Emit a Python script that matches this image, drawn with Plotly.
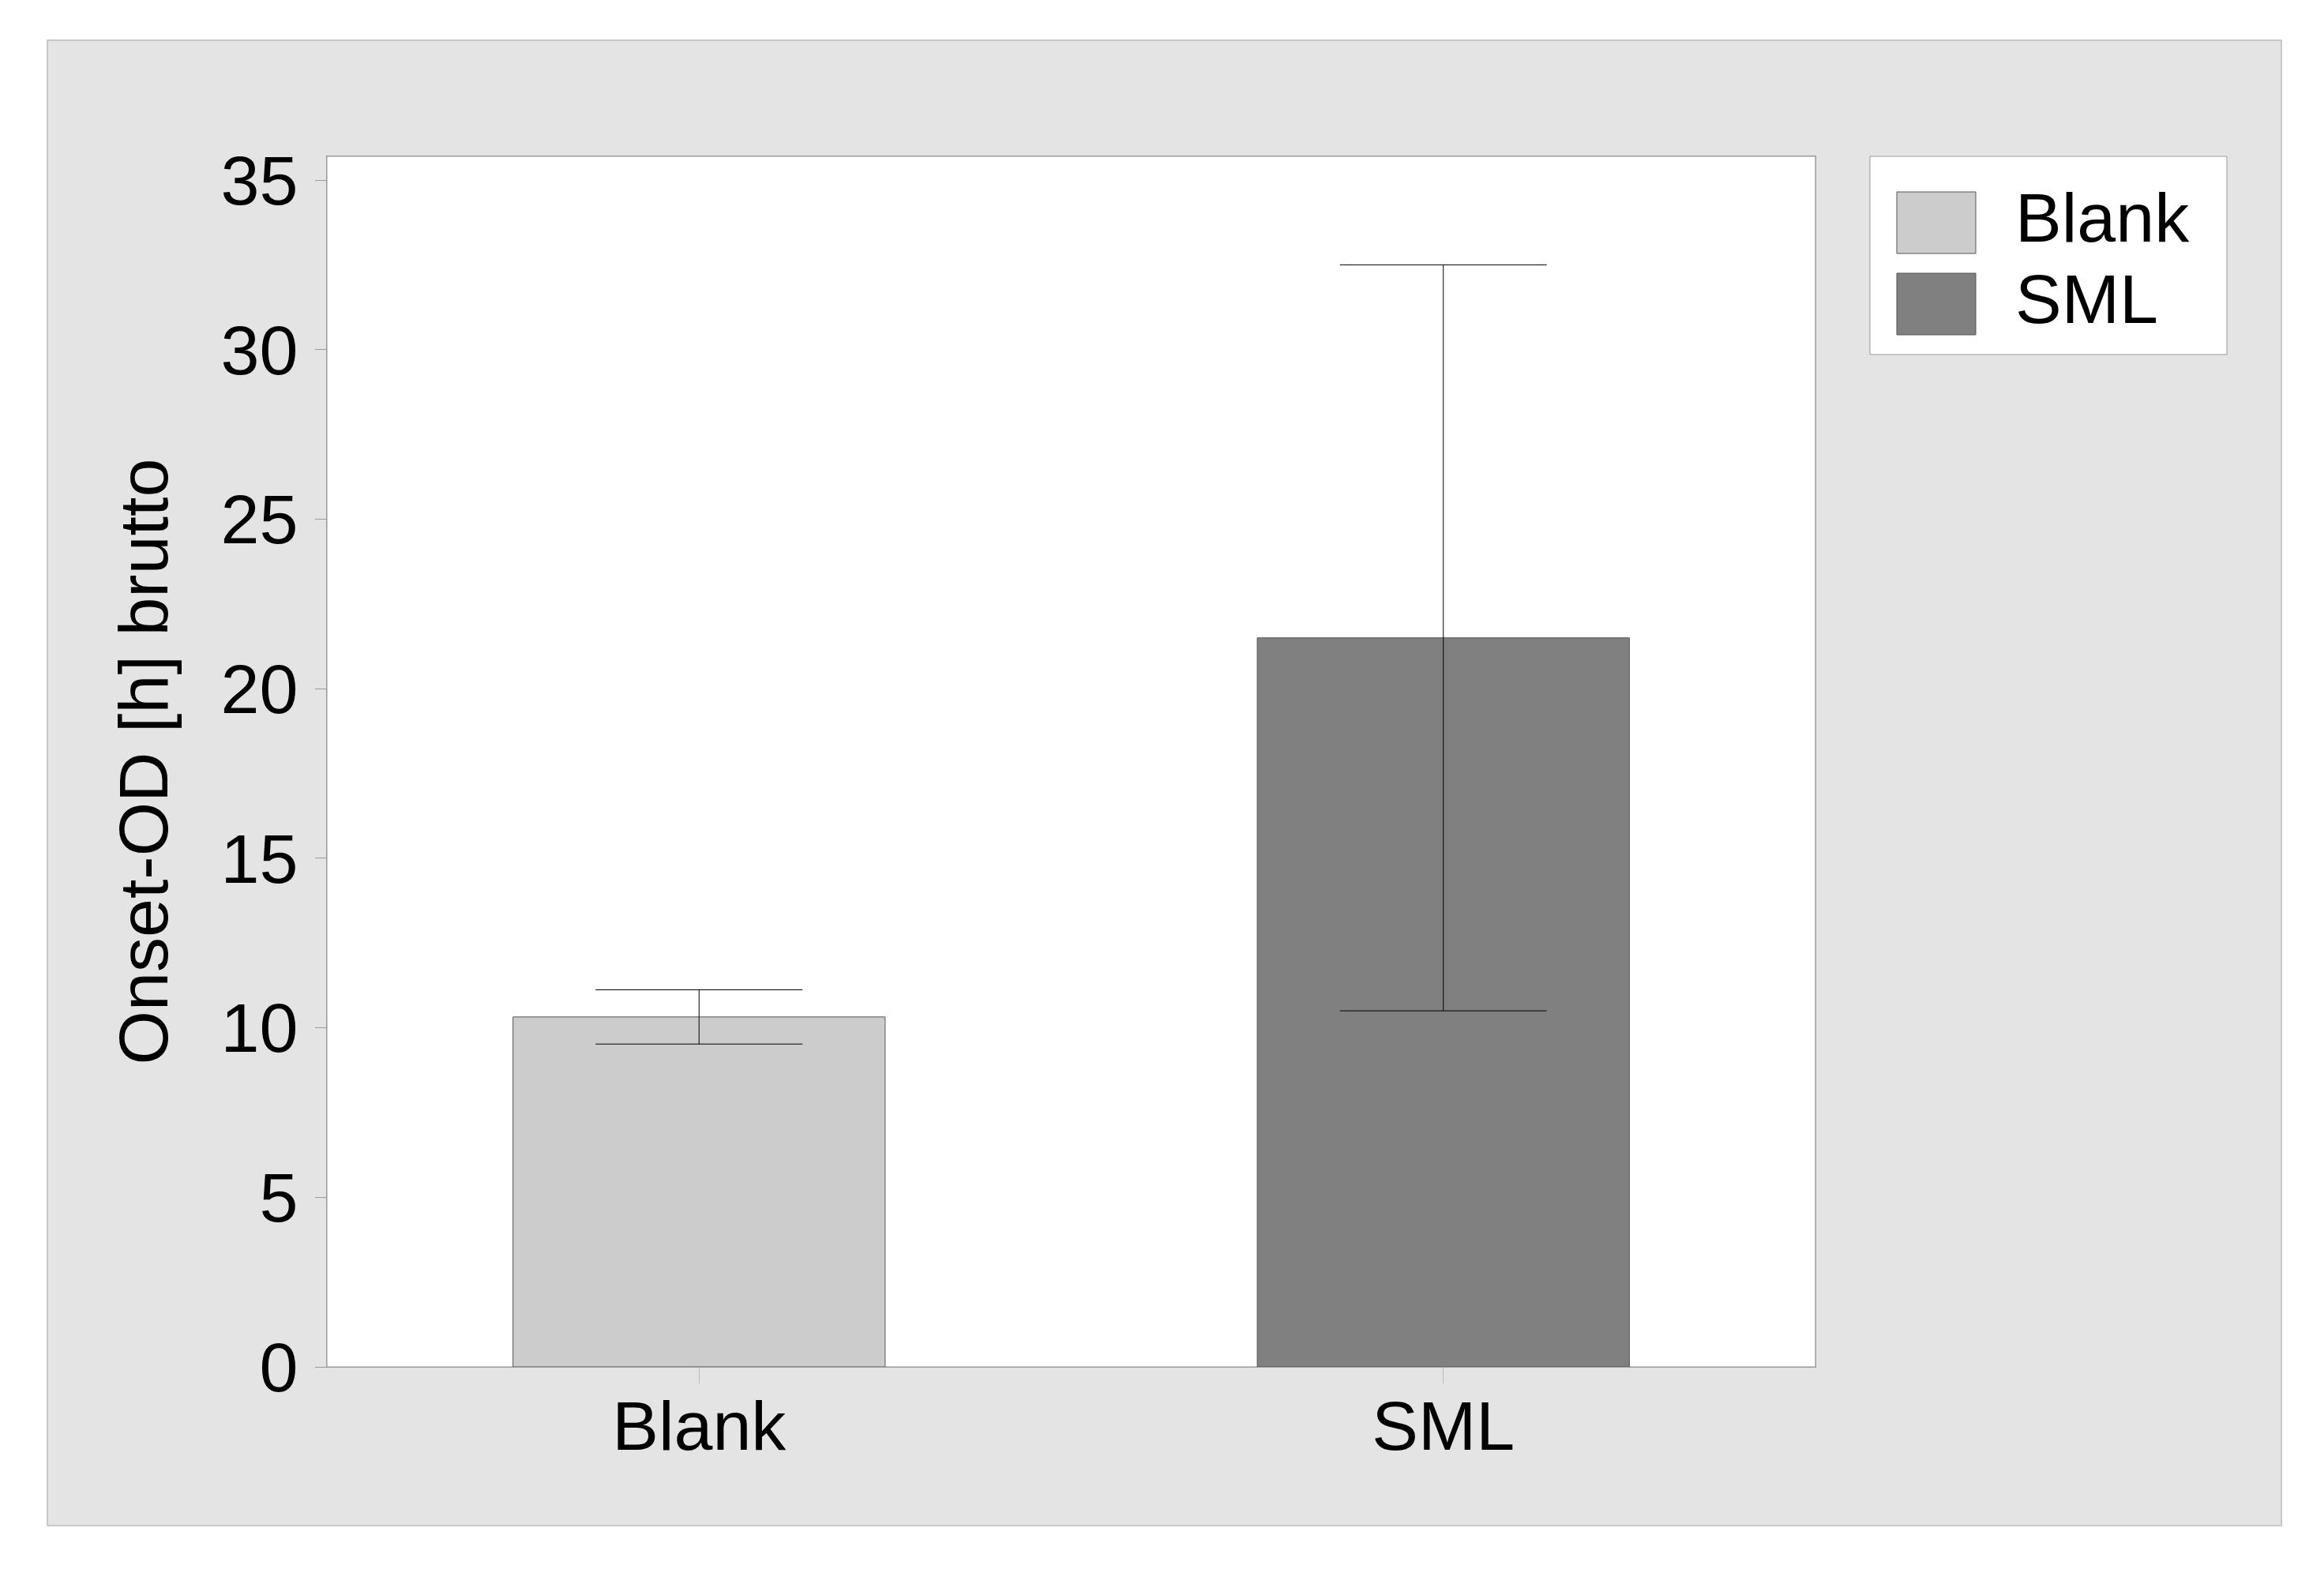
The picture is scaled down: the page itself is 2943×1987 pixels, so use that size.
import plotly.graph_objects as go

# dados
categorias = ["Blank", "SML"]
valores = [10.32, 21.5]
erros = [0.8, 11.0]
cores = ["#cccccc", "#808080"]
eixo_titulo = "Onset-OD [h] brutto"
ticks_y = [0, 5, 10, 15, 20, 25, 30, 35]

W, H = 2943, 1987
OFF = 8  # margem do body na pagina
# area do grafico em pixels (na tela)
L, R, T, B = 414, 2299, 198, 1731
FONTE = "Liberation Sans, Arial, sans-serif"


def px_x(p):
    return (p - L) / (R - L)


def px_y(p):
    return (B - p) / (B - T)


fig = go.Figure(go.Bar(
    x=categorias,
    y=valores,
    width=0.5,
    marker=dict(color=cores, line=dict(color="#555555", width=1)),
    error_y=dict(type="data", array=erros, visible=True,
                 color="black", thickness=1, width=131),
    showlegend=False,
))

shapes = [
    # painel cinza
    dict(type="rect", xref="paper", yref="paper", layer="below",
         x0=px_x(60), x1=px_x(2889), y0=px_y(1932), y1=px_y(51),
         fillcolor="#e4e4e4", line=dict(color="#c8c8c8", width=2)),
    # area branca do grafico
    dict(type="rect", xref="paper", yref="paper", layer="below",
         x0=0, x1=1, y0=0, y1=1,
         fillcolor="white", line=dict(color="#999999", width=1)),
    # caixa da legenda
    dict(type="rect", xref="paper", yref="paper",
         x0=px_x(2368), x1=px_x(2820), y0=px_y(449), y1=px_y(198),
         fillcolor="white", line=dict(color="#999999", width=1)),
]

annotations = []
for i, (nome, cor) in enumerate(zip(categorias, cores)):
    top = 243 + i * 103
    shapes.append(dict(type="rect", xref="paper", yref="paper",
                       x0=px_x(2402), x1=px_x(2502),
                       y0=px_y(top + 78), y1=px_y(top),
                       fillcolor=cor, line=dict(color="#555555", width=1)))
    annotations.append(dict(xref="paper", yref="paper",
                            x=px_x(2550), y=px_y(top + 32),
                            xanchor="left", yanchor="middle",
                            text=nome, showarrow=False,
                            font=dict(size=88, color="black", family=FONTE)))

fig.update_layout(
    width=W - 2 * OFF, height=H - 2 * OFF,
    margin=dict(l=L - OFF, r=W - OFF - R, t=T - OFF, b=H - OFF - B,
                autoexpand=False),
    paper_bgcolor="white",
    plot_bgcolor="white",
    font=dict(family=FONTE, size=88, color="black"),
    bargap=0.5,
    shapes=shapes,
    annotations=annotations,
)

fig.update_yaxes(
    range=[0, 35.7], tickvals=ticks_y,
    showgrid=False, zeroline=False,
    showline=True, linecolor="#999999", linewidth=1, mirror=True,
    ticks="outside", ticklen=14, tickcolor="#999999", tickwidth=1,
    tickfont=dict(size=88, color="black", family=FONTE),
    ticklabelstandoff=4,
    title=dict(text=eixo_titulo, font=dict(size=88, color="black", family=FONTE),
               standoff=37),
)
fig.update_xaxes(
    showgrid=False, zeroline=False,
    showline=True, linecolor="#999999", linewidth=1, mirror=True,
    ticks="outside", ticklen=20, tickcolor="#bbbbbb", tickwidth=1,
    tickfont=dict(size=88, color="black", family=FONTE),
    ticklabelstandoff=-22,
)

fig.write_html("out.html")
